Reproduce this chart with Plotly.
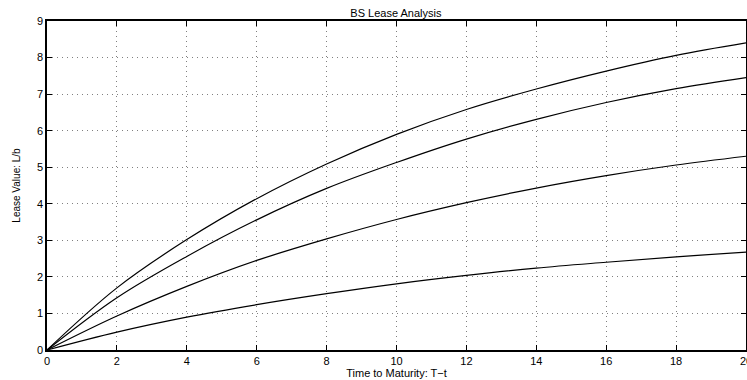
import plotly.graph_objects as go

t = [0, 2, 4, 6, 8, 10, 12, 14, 16, 18, 20]
lease_1 = [0, 1.70, 3.02, 4.14, 5.09, 5.90, 6.58, 7.14, 7.63, 8.06, 8.40]
lease_2 = [0, 1.43, 2.56, 3.56, 4.42, 5.13, 5.77, 6.31, 6.77, 7.15, 7.45]
lease_3 = [0, 0.93, 1.74, 2.45, 3.04, 3.57, 4.03, 4.43, 4.77, 5.06, 5.30]
lease_4 = [0, 0.49, 0.90, 1.24, 1.54, 1.81, 2.04, 2.24, 2.40, 2.55, 2.68]
x_ticks = [0, 2, 4, 6, 8, 10, 12, 14, 16, 18, 20]
y_ticks = [0, 1, 2, 3, 4, 5, 6, 7, 8, 9]

fig = go.Figure()
for s in [lease_1, lease_2, lease_3, lease_4]:
    fig.add_trace(go.Scatter(x=t, y=s, mode="lines",
                             line=dict(color="black", width=1.2, shape="spline", smoothing=1.0),
                             showlegend=False, hoverinfo="skip"))

font = "Liberation Sans, Arial, Helvetica, sans-serif"
axis_common = dict(
    showline=True, linecolor="black", linewidth=1.5, mirror="ticks",
    ticks="inside", ticklen=5, tickcolor="black", tickwidth=1,
    showgrid=True, gridcolor="#808080", griddash="1px,4px", gridwidth=1,
    zeroline=False, tickfont=dict(family=font, size=11, color="black"),
    automargin=False,
)
fig.update_xaxes(range=[0, 20], tickvals=x_ticks, ticklabeloverflow="allow",
                 title=dict(text="Time to Maturity: T\u2212t", font=dict(family=font, size=11, color="black"), standoff=0),
                 **axis_common)
fig.update_yaxes(range=[0, 9], tickvals=y_ticks,
                 title=dict(text="Lease Value: L/b", font=dict(family=font, size=10, color="black"), standoff=14),
                 **axis_common)
fig.update_layout(
    width=747, height=380,
    margin=dict(l=47, r=1, t=21, b=30),
    paper_bgcolor="white", plot_bgcolor="white",
    title=dict(text="BS Lease Analysis", x=0.53, xanchor="center", y=0.975, yanchor="top",
               font=dict(family=font, size=11, color="black")),
)
fig.write_html("out.html")
